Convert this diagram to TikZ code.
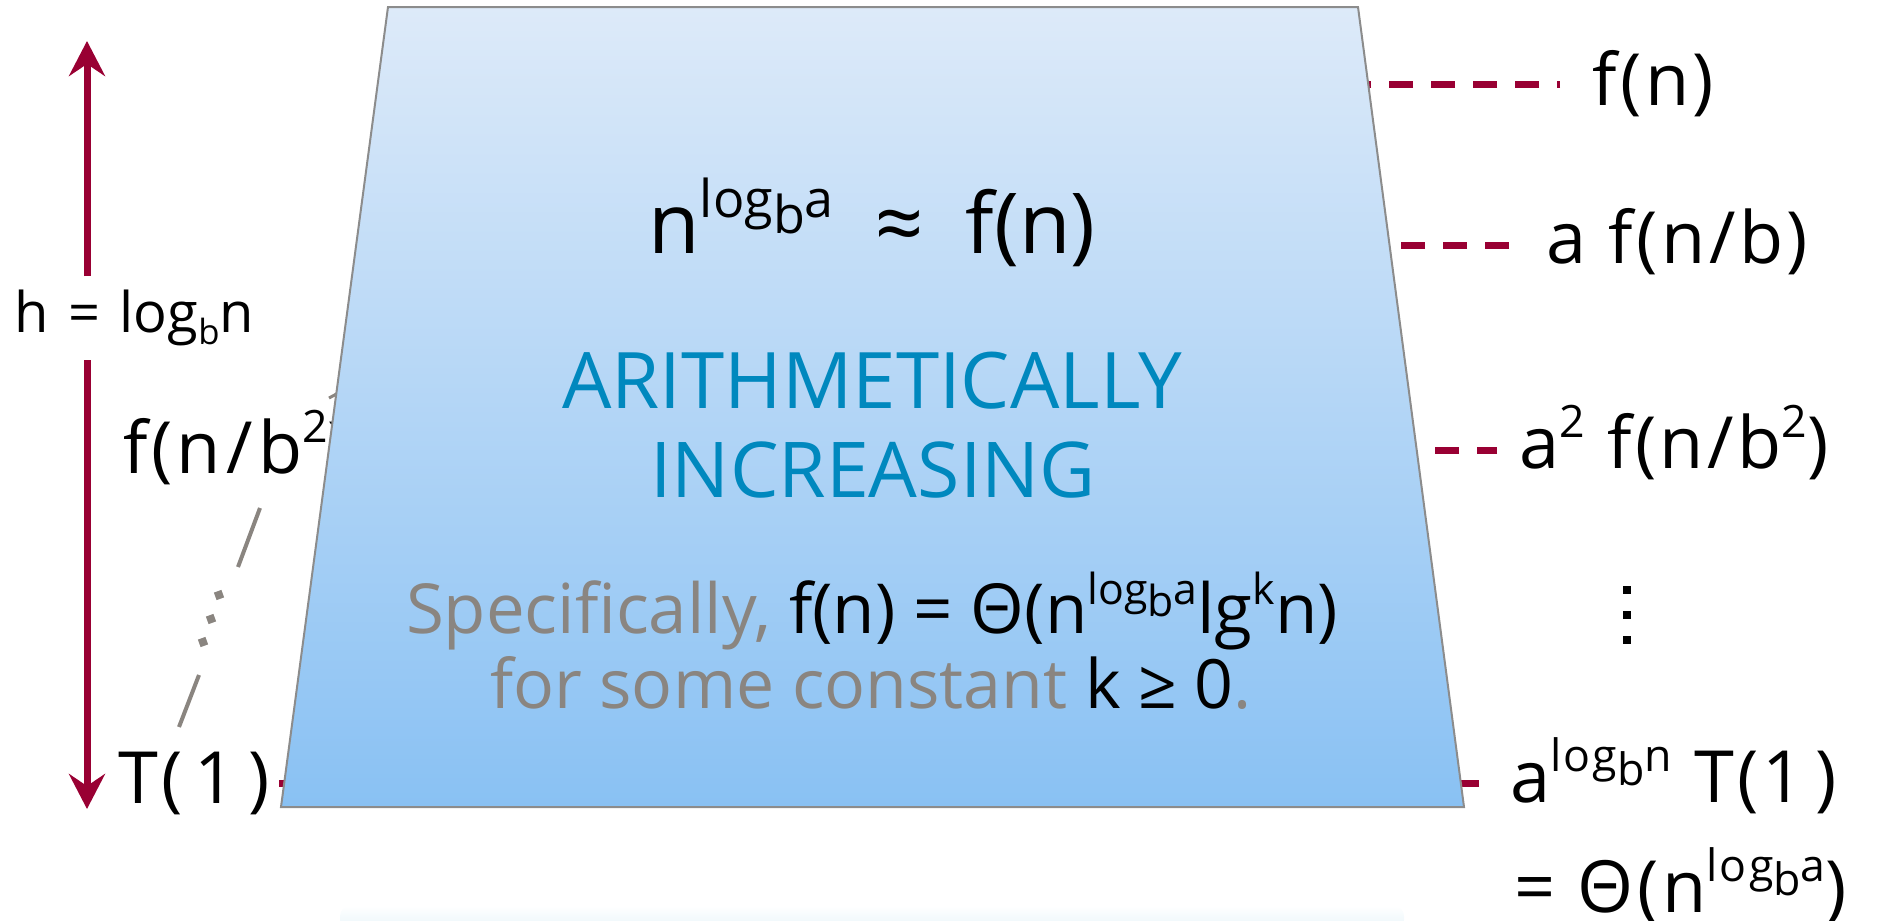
\documentclass[tikz,border=0pt]{standalone}
\usepackage{fontspec}
\setmainfont{Open Sans}
\usetikzlibrary{arrows.meta}
\definecolor{crim}{RGB}{153,0,51}
\definecolor{ablue}{RGB}{0,136,190}
\definecolor{tgray}{RGB}{138,133,128}
\definecolor{ttop}{RGB}{221,234,249}
\definecolor{tbot}{RGB}{137,193,243}
\definecolor{edgegray}{RGB}{140,140,140}
\definecolor{glow}{RGB}{232,245,250}
\newcommand{\upx}[1]{\raisebox{0.42em}{\scalebox{0.62}{#1}}}
\newcommand{\dnx}[1]{\raisebox{-0.22em}{\scalebox{0.62}{#1}}}
\newcommand{\lgsub}{log\raisebox{-0.3em}{b}}
\newcommand{\slsh}{\hspace{0.08em}/\hspace{0.08em}}
\tikzset{
  lab/.style={anchor=base west, inner sep=0pt, font=\fontsize{72}{86}\selectfont\addfontfeature{LetterSpace=5}},
  ctr/.style={anchor=base, inner sep=0pt},
  dashline/.style={crim, line width=7pt, dash pattern=on 24pt off 18pt},
  treeline/.style={tgray, line width=4pt},
  harrow/.style={crim, line width=7pt, -{Stealth[length=35pt,width=36pt,inset=12pt]}},
  trap/.style={draw=edgegray, line width=2pt, top color=ttop, bottom color=tbot},
  dotsq/.style={fill=black}
}
\begin{document}
\begin{tikzpicture}[x=1pt,y=-1pt]
\useasboundingbox (0,0) rectangle (1888,921);
% faint glow at the bottom
\shade[top color=white, bottom color=glow, rounded corners=10pt] (340,906) rectangle (1404,930);

% right labels
\node[lab] (fn) at (1592,105) {f(n)};
\node[lab] (afnb) at (1546,263) {a f(n/b)};
\node[lab] (a2) at (1519,468) {a\upx{2} f(n/b\upx{2})};
\node[lab] (aT1) at (1510,802) {a\upx{\lgsub n} T(1\,)};
\node[lab] (th) at (1514,912) {= Θ(n\upx{\lgsub a})};
\foreach \yy in {590,615,640} \fill[dotsq] (1623,\yy-4) rectangle (1631,\yy+4);

% left labels
\node[lab] (T1) at (118,803) {T(\,1\,)};
\node[lab] (fnb2) at (123,473) {f(n\slsh b\upx{2})};
\node[lab, font=\fontsize{56}{66}\selectfont] (hl) at (14,332) {h\hspace{0.35em}=\hspace{0.35em}log\dnx{b}n};

% height arrow
\coordinate (atop) at (87,41);
\coordinate (abot) at (87,809);
\coordinate (agap1) at (87,276);
\coordinate (agap2) at (87,360);
\draw[harrow] (agap1) -- (atop);
\draw[harrow] (agap2) -- (abot);

% dashed level lines (mostly hidden behind the trapezoid)
\coordinate (fnR) at (1560,84);   \coordinate (fnL) at (1300,84);
\coordinate (afnbR) at (1509,245); \coordinate (afnbL) at (1300,245);
\coordinate (a2R) at (1497,450);   \coordinate (a2L) at (1300,450);
\coordinate (aT1R) at (1479,783);  \coordinate (T1R) at (279,783);
\draw[dashline, dash phase=21pt] (fnR) -- (fnL);
\draw[dashline] (afnbR) -- (afnbL);
\draw[dashline, dash phase=4pt] (a2R) -- (a2L);
\draw[dashline] (aT1R) -- (T1R);

% gray tree lines
\coordinate (g1) at (179,727); \coordinate (g2) at (199,675);
\coordinate (g3) at (238,567); \coordinate (g4) at (260,508);
\draw[treeline] (g1) -- (g2);
\draw[treeline] (g3) -- (g4);
\foreach \px/\py in {203/642, 211/619, 219/595}
  \fill[tgray, rotate around={20:(\px,\py)}] (\px-4,\py-4) rectangle (\px+4,\py+4);
\coordinate (g5) at (329,398); \coordinate (g6) at (400,360);
\draw[treeline, line width=3pt] (g5) -- (g6);

% trapezoid
\coordinate (tl) at (388,7);
\coordinate (tr) at (1358,7);
\coordinate (br) at (1464,807);
\coordinate (bl) at (281,807);
\path[trap] (tl) -- (tr) -- (br) -- (bl) -- cycle;

% centre text
\node[ctr, font=\fontsize{84}{100}\selectfont] (eq) at (872,253) {n\upx{\lgsub a}\hspace{0.5em}≈\hspace{0.5em}f(n)};
\node[ctr, ablue, font=\fontsize{78}{92}\selectfont] (ar1) at (872,408) {ARITHMETICALLY};
\node[ctr, ablue, font=\fontsize{77}{92}\selectfont] (ar2) at (873,497) {INCREASING};
\node[ctr, font=\fontsize{69}{80}\selectfont] (sp1) at (872,633) {\textcolor{tgray}{Specifically,} f(n) = Θ(n\upx{\lgsub a}lg\upx{k}n)};
\node[ctr, font=\fontsize{68}{80}\selectfont] (sp2) at (871,708) {\textcolor{tgray}{for some constant} k ≥ 0\textcolor{tgray}{.}};
\end{tikzpicture}
\end{document}
